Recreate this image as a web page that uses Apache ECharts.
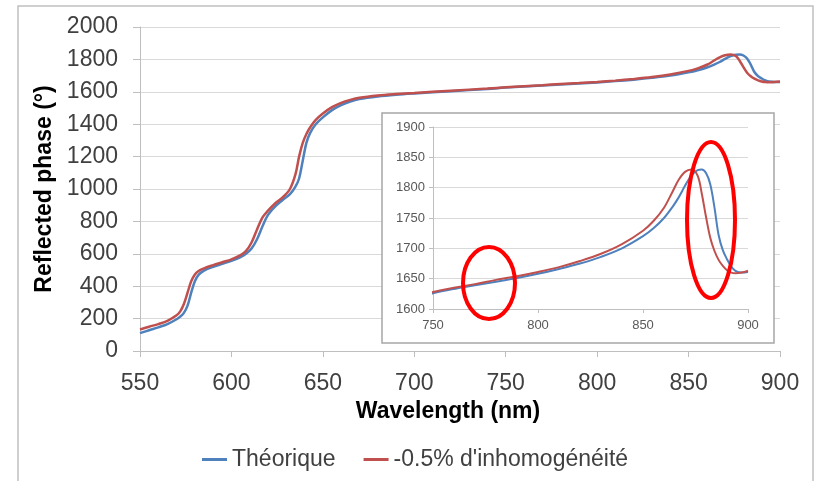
<!DOCTYPE html>
<html>
<head>
<meta charset="utf-8">
<script src="https://cdn.jsdelivr.net/npm/echarts@6/dist/echarts.min.js"></script>
<style>
  html, body { margin: 0; padding: 0; background: #fff; }
  #chart { width: 815px; height: 481px; }
</style>
</head>
<body>
<div id="chart"></div>
<script>
// Wavelength samples (nm)
const wavelength = [
  550, 555, 560, 565, 570, 572, 574, 576, 578, 580, 582, 585, 590, 595, 600,
  605, 608, 611, 614, 617, 620, 624, 628, 632, 635, 637, 639, 641, 643, 646,
  650, 655, 660, 665, 670, 680, 690, 700, 720, 740, 750, 760, 770, 780, 790,
  800, 810, 820, 830, 840, 850, 855, 860, 864, 867, 870, 873, 876, 878, 880,
  882, 884, 886, 888, 890, 892, 894, 897, 900
];
// Reflected phase (degrees), theoretical stack
const theorique = [
  110, 128, 146, 166, 196, 212, 235, 280, 360, 430, 470, 496, 520, 538, 557,
  580, 600, 632, 690, 770, 840, 893, 932, 968, 1015, 1065, 1175, 1285, 1345, 1398,
  1442, 1487, 1518, 1540, 1555, 1571, 1582, 1590, 1604, 1617, 1626, 1633, 1639, 1645, 1651,
  1658, 1666, 1675, 1686, 1700, 1720, 1733, 1750, 1768, 1784, 1803, 1820, 1829, 1830, 1824,
  1806, 1768, 1722, 1697, 1682, 1670, 1663, 1660, 1661
];
// Reflected phase (degrees), stack with -0.5% inhomogeneity
const inhomogeneite = [
  133, 150, 166, 186, 220, 245, 290, 360, 430, 472, 494, 510, 530, 548, 566,
  592, 618, 670, 750, 825, 866, 912, 948, 1000, 1090, 1200, 1285, 1340, 1380, 1425,
  1466, 1505, 1532, 1550, 1563, 1577, 1586, 1593, 1607, 1620, 1628, 1635, 1641, 1648, 1654,
  1661, 1669, 1679, 1691, 1707, 1729, 1745, 1767, 1793, 1813, 1826, 1830, 1820, 1790, 1752,
  1718, 1696, 1681, 1671, 1664, 1660, 1659, 1660, 1663
];
const seriesNames = ['Théorique', "-0.5% d'inhomogénéité"];
const seriesColors = ['#4f81bd', '#c0504d'];

const FONT = "'Liberation Sans', Arial, sans-serif";
const pairs = vals => wavelength.map((w, i) => [w, vals[i]]);
const plain = v => String(v);

const lineSeries = (name, vals, color, idx, z) => ({
  name: name,
  type: 'line',
  xAxisIndex: idx,
  yAxisIndex: idx,
  data: pairs(vals),
  smooth: 0.35,
  showSymbol: false,
  symbol: 'none',
  z: z,
  lineStyle: { color: color, width: idx === 0 ? 2.5 : 2 },
  itemStyle: { color: color }
});

const axisGray = '#bfbfbf';
const gridGray = '#d9d9d9';

const chart = echarts.init(document.getElementById('chart'), null, { renderer: 'canvas' });
chart.setOption({
  animation: false,
  backgroundColor: '#fff',
  textStyle: { fontFamily: FONT },
  grid: [
    { left: 140, top: 27, width: 640, height: 324 },
    { left: 433, top: 127, width: 315, height: 182 }
  ],
  xAxis: [
    {
      type: 'value', gridIndex: 0, min: 550, max: 900, interval: 50,
      name: 'Wavelength (nm)', nameLocation: 'middle', nameGap: 49,
      nameTextStyle: { fontSize: 23, fontWeight: 'bold', color: '#000', fontFamily: FONT, padding: [0, 24, 0, 0] },
      axisLine: { show: true, lineStyle: { color: axisGray, width: 1 } },
      axisTick: { show: true, length: 6, lineStyle: { color: axisGray } },
      axisLabel: { fontSize: 23, color: '#404040', margin: 21, fontFamily: FONT, formatter: plain },
      splitLine: { show: false }
    },
    {
      type: 'value', gridIndex: 1, min: 750, max: 900, interval: 50, z: 4,
      axisLine: { show: true, lineStyle: { color: axisGray, width: 1 } },
      axisTick: { show: true, length: 4, lineStyle: { color: axisGray } },
      axisLabel: { fontSize: 13, color: '#595959', margin: 10, fontFamily: FONT, formatter: plain },
      splitLine: { show: false }
    }
  ],
  yAxis: [
    {
      type: 'value', gridIndex: 0, min: 0, max: 2000, interval: 200,
      name: 'Reflected phase (°)', nameLocation: 'middle', nameGap: 84,
      nameTextStyle: { fontSize: 23, fontWeight: 'bold', color: '#000', fontFamily: FONT },
      axisLine: { show: true, lineStyle: { color: axisGray, width: 1 } },
      axisTick: { show: true, length: 7, lineStyle: { color: axisGray } },
      axisLabel: { fontSize: 23, color: '#404040', margin: 22, fontFamily: FONT, formatter: plain },
      splitLine: { show: true, lineStyle: { color: gridGray, width: 1 } }
    },
    {
      type: 'value', gridIndex: 1, min: 1600, max: 1900, interval: 50, z: 4,
      axisLine: { show: true, lineStyle: { color: axisGray, width: 1 } },
      axisTick: { show: true, length: 4, lineStyle: { color: axisGray } },
      axisLabel: { fontSize: 13, color: '#595959', margin: 8, fontFamily: FONT, formatter: plain },
      splitLine: { show: true, lineStyle: { color: gridGray, width: 1 } }
    }
  ],
  legend: {
    data: seriesNames,
    left: 197, top: 443,
    icon: 'rect', itemWidth: 25, itemHeight: 3, itemGap: 28,
    textStyle: { fontSize: 23, color: '#404040', fontFamily: FONT }
  },
  series: [
    lineSeries(seriesNames[0], theorique, seriesColors[0], 0, 2),
    lineSeries(seriesNames[1], inhomogeneite, seriesColors[1], 0, 2),
    lineSeries(seriesNames[0], theorique, seriesColors[0], 1, 5),
    lineSeries(seriesNames[1], inhomogeneite, seriesColors[1], 1, 5)
  ],
  graphic: [
    {
      type: 'rect', z: -1, silent: true,
      shape: { x: 18, y: 6, width: 795, height: 500 },
      style: { fill: 'none', stroke: '#c0c0c0', lineWidth: 1.5 }
    },
    {
      type: 'rect', z: 3, silent: true,
      shape: { x: 382, y: 113, width: 392, height: 230 },
      style: { fill: '#fff', stroke: '#a6a6a6', lineWidth: 1.5 }
    },
    {
      type: 'ellipse', z: 10, silent: true,
      shape: { cx: 489, cy: 283, rx: 26, ry: 36 },
      style: { fill: 'none', stroke: '#ff0000', lineWidth: 4 }
    },
    {
      type: 'ellipse', z: 10, silent: true,
      shape: { cx: 711, cy: 220, rx: 24, ry: 78 },
      style: { fill: 'none', stroke: '#ff0000', lineWidth: 4 }
    }
  ]
});
</script>
</body>
</html>
